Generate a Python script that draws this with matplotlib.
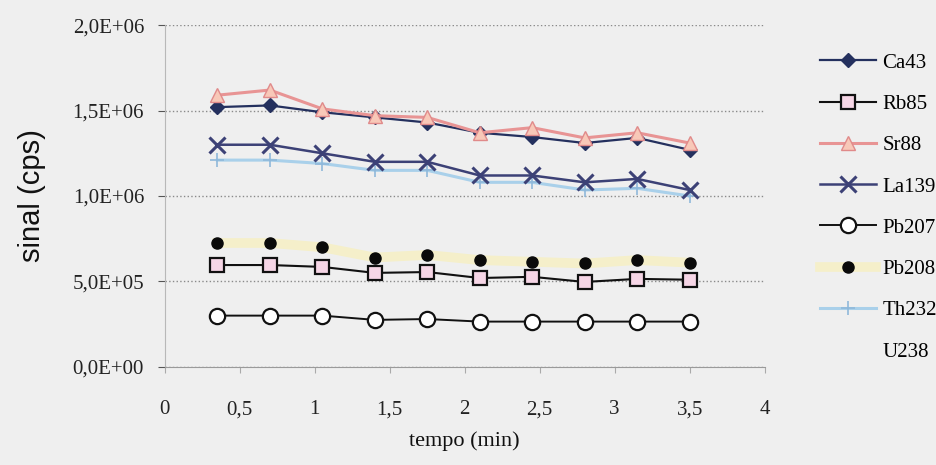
import matplotlib
matplotlib.use("Agg")
import matplotlib.pyplot as plt
from matplotlib.ticker import FuncFormatter, MultipleLocator

# tempo (min)
tempo = [0.35, 0.7, 1.05, 1.4, 1.75, 2.1, 2.45, 2.8, 3.15, 3.5]

# sinal (cps)
ca43 = [1.52e6, 1.53e6, 1.49e6, 1.46e6, 1.43e6, 1.37e6, 1.345e6, 1.31e6, 1.34e6, 1.27e6]
rb85 = [5.96e5, 5.96e5, 5.85e5, 5.5e5, 5.55e5, 5.2e5, 5.27e5, 4.97e5, 5.15e5, 5.1e5]
sr88 = [1.59e6, 1.62e6, 1.51e6, 1.47e6, 1.46e6, 1.37e6, 1.40e6, 1.34e6, 1.37e6, 1.31e6]
la139 = [1.30e6, 1.30e6, 1.25e6, 1.20e6, 1.20e6, 1.12e6, 1.12e6, 1.08e6, 1.10e6, 1.035e6]
pb207 = [3.0e5, 3.0e5, 3.0e5, 2.75e5, 2.8e5, 2.65e5, 2.65e5, 2.65e5, 2.65e5, 2.65e5]
pb208 = [7.25e5, 7.25e5, 7.0e5, 6.4e5, 6.55e5, 6.25e5, 6.15e5, 6.05e5, 6.25e5, 6.1e5]
th232 = [1.21e6, 1.21e6, 1.19e6, 1.15e6, 1.15e6, 1.08e6, 1.08e6, 1.035e6, 1.045e6, 1.0e6]

bg = "#efefef"
serif = "Liberation Serif"

fig = plt.figure(figsize=(9.37, 4.65), dpi=100, facecolor=bg)
ax = fig.add_axes([0.176, 0.211, 0.640, 0.735], facecolor=bg)

ax.plot(tempo, ca43, color="#24305e", lw=1.6, marker="D", ms=7,
        mfc="#24305e", mec="#24305e", label="Ca43", zorder=4)
ax.plot(tempo, rb85, color="#111111", lw=1.5, marker="s", ms=10,
        mfc="#f6d6e6", mec="#111111", mew=1.6, label="Rb85", zorder=5)
ax.plot(tempo, sr88, color="#e89494", lw=2.2, marker="^", ms=10,
        mfc="#f8c8b8", mec="#e08a8a", label="Sr88", zorder=5)
ax.plot(tempo, la139, color="#3c4176", lw=1.8, marker="x", ms=11,
        mew=2.2, label="La139", zorder=4)
ax.plot(tempo, pb207, color="#111111", lw=1.4, marker="o", ms=11,
        mfc="white", mec="#111111", mew=1.6, label="Pb207", zorder=5)
ax.plot(tempo, pb208, color="#f5efca", lw=7, marker="o", ms=8,
        mfc="#0a0a0a", mec="#0a0a0a", label="Pb208", zorder=3)
ax.plot(tempo, th232, color="#a9d0ea", lw=2.2, marker="+", ms=10,
        mew=1.2, mec="#8fb8da", label="Th232", zorder=3)
ax.plot([], [], color="none", label="U238")

ax.set_xlim(0, 4)
ax.set_ylim(0, 2.0e6)
ax.xaxis.set_major_locator(MultipleLocator(0.5))
ax.yaxis.set_major_locator(MultipleLocator(5e5))
ax.yaxis.set_major_formatter(FuncFormatter(lambda v, p: f"{v:.1E}".replace(".", ",")))
ax.xaxis.set_major_formatter(FuncFormatter(lambda v, p: f"{v:g}".replace(".", ",")))

ax.grid(axis="y", color="#8a8a8a", linestyle=":", lw=1.0)
ax.get_ygridlines()[-1].set_visible(False)
ax.get_ygridlines()[0].set_visible(False)

for s in ["top", "right"]:
    ax.spines[s].set_visible(False)
ax.spines["left"].set_color("#b8b8b8")
ax.spines["bottom"].set_color("#9a9a9a")
ax.tick_params(axis="y", length=5, color="#555555", labelsize=15, pad=10)
ax.tick_params(axis="x", length=4, color="#aaaaaa", labelsize=15, pad=20)
for lab in ax.get_xticklabels() + ax.get_yticklabels():
    lab.set_fontfamily(serif)
    lab.set_color("#222222")

ax.set_xlabel("tempo (min)", fontsize=16, family=serif, labelpad=9, color="#111111")
ax.set_ylabel("sinal (cps)", fontsize=21, family="Liberation Sans", labelpad=19, color="#111111")

leg = ax.legend(loc="upper left", bbox_to_anchor=(0.864, 0.908), bbox_transform=fig.transFigure,
                frameon=False, borderpad=0, handlelength=2.7, handletextpad=0.3,
                labelspacing=1.04, prop={"family": serif, "size": 15})

fig.savefig("out.png", dpi=100, facecolor=bg)
